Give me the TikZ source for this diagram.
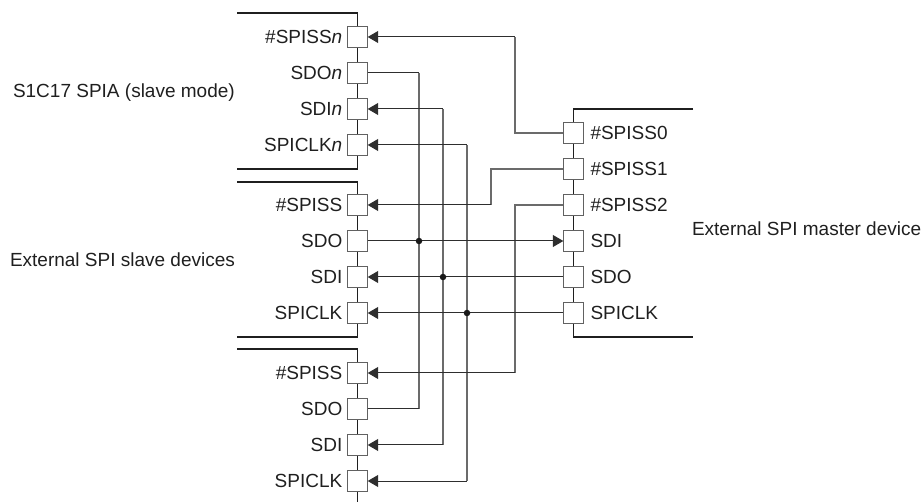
\documentclass[tikz,border=0pt]{standalone}
\usepackage{fontspec}
\setmainfont{Liberation Sans}
\usetikzlibrary{arrows.meta}
\tikzset{
  x=1pt,y=-1pt,
  pin/.style={draw=black!62,line width=1.2pt,fill=white,minimum size=20.4pt,inner sep=0pt,outer sep=0pt},
  txt/.style={inner sep=0pt,outer sep=0pt,text=black!88,font=\fontsize{19pt}{22pt}\selectfont},
  llab/.style={txt,anchor=base east},
  rlab/.style={txt,anchor=base west},
  bus/.style={line width=1.1pt,draw=black!88},
  net/.style={line width=1pt,draw=black!82},
  vnet/.style={line width=1.2pt,draw=black!58},
  tip/.style={{Triangle[length=10.5pt,width=12pt]}-,line width=1pt,draw=black!82},
  dot/.style={circle,fill=black!90,inner sep=0pt,minimum size=6.5pt},
}
\newcommand{\pinL}[3]{\node[pin] (#1) at (357.5,#2) {}; \node[llab] (#1t) at (342.3,#2+6.5) {#3};}
\newcommand{\pinR}[3]{\node[pin] (#1) at (573.5,#2) {}; \node[rlab] (#1t) at (590.5,#2+6.5) {#3};}
\begin{document}
\begin{tikzpicture}
\useasboundingbox (0,0) rectangle (924,502);
% device outlines
\coordinate (a1) at (237,13); \coordinate (a2) at (357.5,13); \coordinate (a3) at (357.5,169); \coordinate (a4) at (237,169);
\coordinate (b1) at (237,182); \coordinate (b2) at (357.5,182); \coordinate (b3) at (357.5,337); \coordinate (b4) at (237,337);
\coordinate (c1) at (237,349); \coordinate (c2) at (357.5,349); \coordinate (c3) at (357.5,502);
\coordinate (d1) at (693,109); \coordinate (d2) at (573.5,109); \coordinate (d3) at (573.5,337); \coordinate (d4) at (693,337);
\draw[bus] (a1)--(a2)--(a3)--(a4);
\draw[bus] (b1)--(b2)--(b3)--(b4);
\draw[bus] (c1)--(c2)--(c3);
\draw[bus] (d1)--(d2)--(d3)--(d4);
% pins
\pinL{an}{37}{\#SPISS\textit{n}}
\pinL{ao}{73}{SDO\textit{n}}
\pinL{ai}{109}{SDI\textit{n}}
\pinL{ac}{145}{SPICLK\textit{n}}
\pinL{bn}{205}{\#SPISS}
\pinL{bo}{241}{SDO}
\pinL{bi}{277}{SDI}
\pinL{bc}{313}{SPICLK}
\pinL{cn}{373}{\#SPISS}
\pinL{co}{409}{SDO}
\pinL{ci}{445}{SDI}
\pinL{cc}{481}{SPICLK}
\pinR{m0}{133}{\#SPISS0}
\pinR{m1}{169}{\#SPISS1}
\pinR{m2}{205}{\#SPISS2}
\pinR{mi}{241}{SDI}
\pinR{mo}{277}{SDO}
\pinR{mc}{313}{SPICLK}
% bend points
\coordinate (k0) at (515,37);
\coordinate (k1) at (491,205);
\coordinate (k2) at (515,373);
\coordinate (jo) at (419,241);
\coordinate (ji) at (443,277);
\coordinate (jc) at (467,313);
\coordinate (vo) at (419,73);
\coordinate (vi) at (443,109);
\coordinate (vc) at (467,145);
\coordinate (wo) at (419,409);
\coordinate (wi) at (443,445);
\coordinate (wc) at (467,481);
% verticals of the shared nets
\draw[vnet] (vo)--(wo);
\draw[vnet] (vi)--(wi);
\draw[vnet] (vc)--(wc);
% select lines
\draw[vnet] (k0)|-(m0.west);
\draw[vnet] (k1)|-(m1.west);
\draw[vnet] (k2)|-(m2.west);
\draw[tip] (an.east)--(k0);
\draw[tip] (bn.east)--(k1);
\draw[tip] (cn.east)--(k2);
% shared nets
\draw[net] (ao.east)--(vo);
\draw[tip] (ai.east)--(vi);
\draw[tip] (ac.east)--(vc);
\draw[net,-{Triangle[length=10.5pt,width=12pt]}] (bo.east)--(mi.west);
\draw[tip] (bi.east)--(mo.west);
\draw[tip] (bc.east)--(mc.west);
\draw[net] (co.east)--(wo);
\draw[tip] (ci.east)--(wi);
\draw[tip] (cc.east)--(wc);
\node[dot] (d1n) at (jo) {};
\node[dot] (d2n) at (ji) {};
\node[dot] (d3n) at (jc) {};
% titles
\node[rlab] (t1) at (13,97.5) {S1C17 SPIA (slave mode)};
\node[rlab] (t2) at (10,267) {External SPI slave devices};
\node[rlab] (t3) at (692,236) {External SPI master device};
\end{tikzpicture}
\end{document}
